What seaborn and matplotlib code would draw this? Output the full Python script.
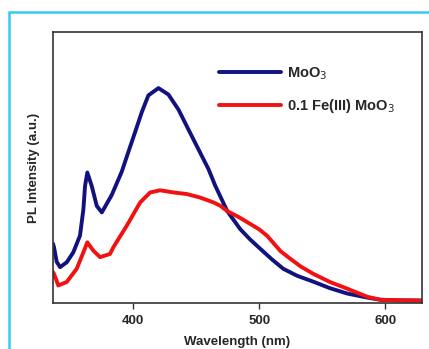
import matplotlib
matplotlib.use("Agg")
import matplotlib.pyplot as plt
import seaborn as sns
import pandas as pd
from matplotlib.patches import Rectangle

sns.set_style("white")
plt.rcParams['font.family'] = ['Liberation Sans', 'DejaVu Sans']

# MoO3 (blue) spectrum
moo3_nm = [336.5, 337.3, 339.4, 342.1, 347.4, 352.6, 357.9, 360.6, 361.9, 363.7, 367.2, 371.2, 375.2,
           383.1, 391.0, 396.3, 401.6, 406.9, 412.1, 420.1, 428.0, 436.0, 443.9, 451.8, 459.8,
           465.1, 474.6, 484.9, 492.9, 500.8, 510, 519, 530, 542.9, 556, 569.8, 585.7, 596, 610, 629]
moo3_int = [21.5, 20.2, 14.8, 12.8, 14.6, 18.3, 24.5, 34.3, 42.9, 47.9, 42.9, 35.5, 33.1,
            39.6, 48.2, 55.6, 62.9, 70.3, 76.5, 79.2, 76.8, 71.2, 63.8, 56.5, 49.1,
            43.0, 33.6, 26.9, 23.0, 19.6, 15.7, 12.2, 9.6, 7.4, 5.0, 3.0, 1.5, 0.7, 0.5, 0.4]

# 0.1 Fe(III) MoO3 (red) spectrum
fe_nm = [336.5, 337.3, 340.7, 347.4, 355.3, 360.6, 363.7, 368.5, 373.8, 381.7, 384.4, 395.0, 405.6,
         413.5, 421.4, 432.0, 442.6, 453.2, 463.7, 469.0, 474.6, 484, 492.9, 500, 506.3, 516.7, 524.6,
         533, 542.9, 556, 569.8, 585.7, 596, 610, 629]
fe_int = [11.0, 10.3, 6.0, 7.3, 12.2, 18.3, 22.0, 18.9, 16.5, 17.7, 20.2, 28.2, 36.8,
          40.5, 41.3, 40.5, 39.9, 38.6, 36.8, 35.6, 33.6, 31.3, 28.8, 26.8, 24.4, 18.8, 15.9,
          13.0, 10.3, 7.3, 4.8, 1.8, 0.7, 0.5, 0.4]

labels = ["MoO$_3$", "0.1 Fe(III) MoO$_3$"]
colors = ["#12127f", "#f21010"]
xticks = [400, 500, 600]

df = pd.concat([
    pd.DataFrame({"Wavelength": moo3_nm, "Intensity": moo3_int, "Sample": labels[0]}),
    pd.DataFrame({"Wavelength": fe_nm, "Intensity": fe_int, "Sample": labels[1]}),
])

fig = plt.figure(figsize=(4.29, 3.49), dpi=100)
ax = fig.add_axes([53/429, 1-303/349, (422-53)/429, (303-32)/349])

sns.lineplot(data=df, x="Wavelength", y="Intensity", hue="Sample", hue_order=labels,
             palette=colors, linewidth=2.8, ax=ax, sort=False)

ax.set_xlim(336.5, 629)
ax.set_ylim(-0.5, 100)
ax.set_xticks(xticks)
ax.set_xticklabels([str(t) for t in xticks], fontsize=9.5, fontweight='bold')
ax.set_yticks([])
ax.tick_params(axis='x', direction='out', length=4, width=1, color='#333333', pad=5, bottom=True)
ax.set_xlabel("Wavelength (nm)", fontsize=9.5, fontweight='bold', labelpad=6)
ax.set_ylabel("PL Intensity (a.u.)", fontsize=9.5, fontweight='bold', labelpad=9)
for s in ax.spines.values():
    s.set_color('#333333')
    s.set_linewidth(1.2)

h, l = ax.get_legend_handles_labels()
leg = ax.legend(h, labels, loc='upper left', bbox_to_anchor=(0.415, 0.925), frameon=False,
                handlelength=4.2, handletextpad=0.45, labelspacing=1.0,
                prop={'weight': 'bold', 'size': 10.5})

# light-blue frame around the figure
fig.patches.append(Rectangle((9/429, -0.2), 1.2, 1.2 - 12/349, transform=fig.transFigure,
                             fill=False, edgecolor='#38c8f0', linewidth=1.8))

fig.savefig("out.png", dpi=100)
